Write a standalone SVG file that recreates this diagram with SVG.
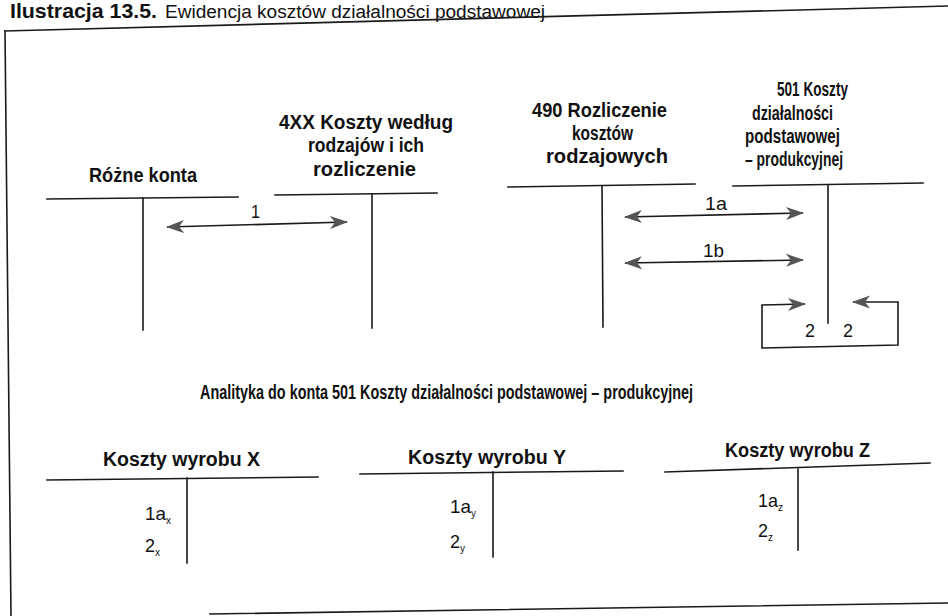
<svg xmlns="http://www.w3.org/2000/svg" width="948" height="616" viewBox="0 0 948 616">
<style>
  .ln { stroke:#1a1a1a; stroke-width:1.6; fill:none; stroke-linecap:square; }
  .hd { font-family:"Liberation Sans",Arial,sans-serif; font-weight:bold; font-size:20px; fill:#111; }
  .nm { font-family:"Liberation Sans",Arial,sans-serif; font-size:19px; fill:#111; }
  .sb { font-family:"Liberation Sans",Arial,sans-serif; font-size:10px; fill:#111; }
  .ar { stroke:#1a1a1a; stroke-width:1.6; fill:none; marker-start:url(#ah); marker-end:url(#ah); }
</style>
<defs>
  <marker id="ah" viewBox="0 0 18 14" refX="17" refY="7" markerWidth="18" markerHeight="14" markerUnits="userSpaceOnUse" orient="auto-start-reverse">
    <path d="M0,0.5 L18,7 L0,13.5 L5,7 Z" fill="#555"/>
  </marker>
</defs>
<rect width="948" height="616" fill="#fff"/>

<g id="title">
  <text x="10" y="18" font-family="Liberation Sans,Arial,sans-serif" font-weight="bold" font-size="21" fill="#111" textLength="147" lengthAdjust="spacingAndGlyphs">Ilustracja 13.5.</text>
  <text x="165" y="18" font-family="Liberation Sans,Arial,sans-serif" font-size="18" fill="#111" textLength="380" lengthAdjust="spacingAndGlyphs">Ewidencja kosztów działalności podstawowej</text>
</g>

<g id="frame">
  <path class="ln" d="M5,31 L948,6"/>
  <path class="ln" d="M5,31 L11,616"/>
  <path class="ln" d="M210,614 L948,603"/>
</g>

<g id="acct-rozne">
  <text class="hd" x="89" y="182" textLength="108" lengthAdjust="spacingAndGlyphs">Różne konta</text>
  <path class="ln" d="M47,199 L238,197"/>
  <path class="ln" d="M143,198 L143,330"/>
</g>

<g id="acct-4xx">
  <text class="hd" x="279" y="129" textLength="174" lengthAdjust="spacingAndGlyphs">4XX Koszty według</text>
  <text class="hd" x="308" y="152" textLength="116" lengthAdjust="spacingAndGlyphs">rodzajów i ich</text>
  <text class="hd" x="313" y="176" textLength="103" lengthAdjust="spacingAndGlyphs">rozliczenie</text>
  <path class="ln" d="M275,195 L437,193"/>
  <path class="ln" d="M372,194 L372,328"/>
</g>

<g id="acct-490">
  <text class="hd" x="532" y="117" textLength="135" lengthAdjust="spacingAndGlyphs">490 Rozliczenie</text>
  <text class="hd" x="572" y="140" textLength="61" lengthAdjust="spacingAndGlyphs">kosztów</text>
  <text class="hd" x="546" y="163" textLength="122" lengthAdjust="spacingAndGlyphs">rodzajowych</text>
  <path class="ln" d="M508,187 L695,184"/>
  <path class="ln" d="M602,186 L603,327"/>
</g>

<g id="acct-501">
  <text class="hd" x="777" y="96" textLength="71" lengthAdjust="spacingAndGlyphs">501 Koszty</text>
  <text class="hd" x="752" y="120" textLength="81" lengthAdjust="spacingAndGlyphs">działalności</text>
  <text class="hd" x="745" y="143" textLength="95" lengthAdjust="spacingAndGlyphs">podstawowej</text>
  <text class="hd" x="745" y="166" textLength="98" lengthAdjust="spacingAndGlyphs">– produkcyjnej</text>
  <path class="ln" d="M733,186 L923,183"/>
  <path class="ln" d="M828,185 L828,323"/>
</g>

<g id="connectors">
  <path class="ar" d="M167,227 L347,222"/>
  <path class="ar" d="M625,217 L803,213"/>
  <path class="ar" d="M625,263 L803,260"/>
  <path class="ar" d="M805,304 L762,305 L762,348 L898,345 L898,302 L853,302"/>
  <text class="nm" x="251" y="218" textLength="9" lengthAdjust="spacingAndGlyphs">1</text>
  <text class="nm" x="705" y="210" textLength="22" lengthAdjust="spacingAndGlyphs">1a</text>
  <text class="nm" x="703" y="257" textLength="21" lengthAdjust="spacingAndGlyphs">1b</text>
  <text class="nm" x="805" y="337" textLength="10" lengthAdjust="spacingAndGlyphs">2</text>
  <text class="nm" x="843" y="337" textLength="10" lengthAdjust="spacingAndGlyphs">2</text>
</g>

<g id="analityka">
  <text class="hd" x="200" y="399" textLength="493" lengthAdjust="spacingAndGlyphs">Analityka do konta 501 Koszty działalności podstawowej – produkcyjnej</text>
</g>

<g id="acct-x">
  <text class="hd" x="103" y="466" textLength="157" lengthAdjust="spacingAndGlyphs">Koszty wyrobu X</text>
  <path class="ln" d="M47,480 L318,477"/>
  <path class="ln" d="M187,478 L187,563"/>
  <text class="nm" x="145" y="520" textLength="21" lengthAdjust="spacingAndGlyphs">1a</text>
  <text class="sb" x="166" y="524">x</text>
  <text class="nm" x="145" y="552" textLength="10" lengthAdjust="spacingAndGlyphs">2</text>
  <text class="sb" x="155" y="556">x</text>
</g>

<g id="acct-y">
  <text class="hd" x="408" y="464" textLength="158" lengthAdjust="spacingAndGlyphs">Koszty wyrobu Y</text>
  <path class="ln" d="M360,474 L623,471"/>
  <path class="ln" d="M493,472 L493,557"/>
  <text class="nm" x="450" y="513" textLength="21" lengthAdjust="spacingAndGlyphs">1a</text>
  <text class="sb" x="471" y="517">y</text>
  <text class="nm" x="450" y="548" textLength="10" lengthAdjust="spacingAndGlyphs">2</text>
  <text class="sb" x="460" y="552">y</text>
</g>

<g id="acct-z">
  <text class="hd" x="725" y="457" textLength="145" lengthAdjust="spacingAndGlyphs">Koszty wyrobu Z</text>
  <path class="ln" d="M665,472 L930,463"/>
  <path class="ln" d="M798,469 L798,550"/>
  <text class="nm" x="758" y="507" textLength="20" lengthAdjust="spacingAndGlyphs">1a</text>
  <text class="sb" x="778" y="511">z</text>
  <text class="nm" x="758" y="537" textLength="10" lengthAdjust="spacingAndGlyphs">2</text>
  <text class="sb" x="768" y="541">z</text>
</g>
</svg>
